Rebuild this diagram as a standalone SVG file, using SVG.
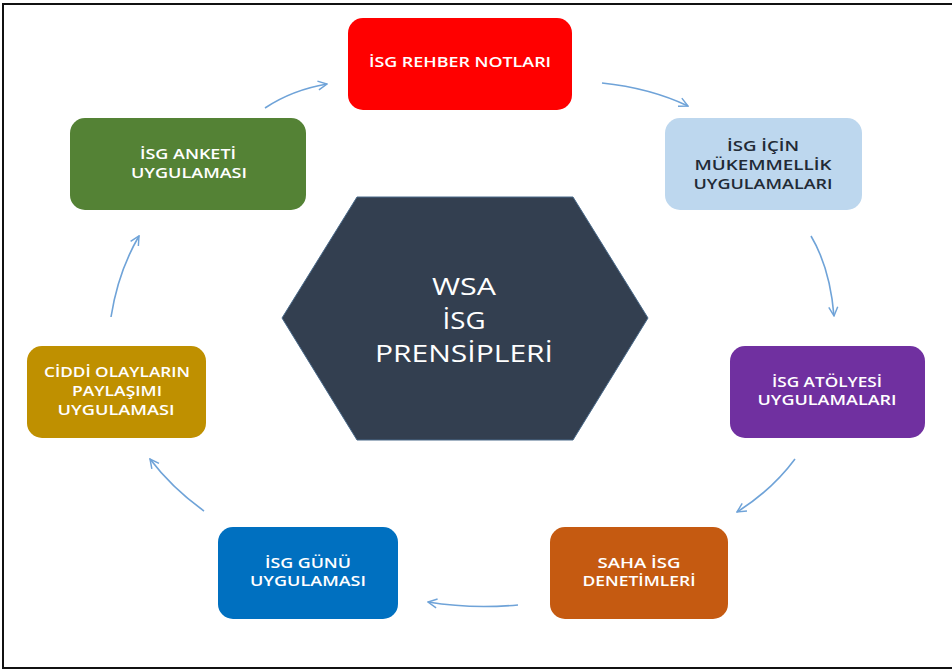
<svg xmlns="http://www.w3.org/2000/svg" width="952" height="670" viewBox="0 0 952 670">
<defs>
<style>
.box text{font-family:"Open Sans","Liberation Sans",sans-serif;font-size:14.5px;font-weight:600;text-anchor:middle;fill:#ffffff}
.dark text{fill:#222a35}
.conn path{fill:none;stroke:#6fa3d8;stroke-width:1.6;marker-end:url(#ah)}
.hub text{font-family:"Open Sans","Liberation Sans",sans-serif;font-size:23px;text-anchor:middle;fill:#ffffff}
</style>
<marker id="ah" viewBox="0 0 10 10" refX="9" refY="5" markerWidth="7" markerHeight="7" orient="auto" markerUnits="strokeWidth">
<path d="M1,1 L9,5 L1,9" fill="none" stroke="#6fa3d8" stroke-width="1.3"/>
</marker>
</defs>
<rect x="0" y="0" width="952" height="670" fill="#ffffff"/>
<path d="M3,669 L3,4 L952,4 M3,668 L952,668" fill="none" stroke="#111" stroke-width="2"/>

<g id="hub" class="hub">
<polygon points="282,318 357,197 573,197 648,318 573,440 357,440" fill="#333f50" stroke="#4a6a8a" stroke-width="1"/>
<text x="464" y="295" textLength="64" lengthAdjust="spacingAndGlyphs">WSA</text>
<text x="464" y="329" textLength="43" lengthAdjust="spacingAndGlyphs">İSG</text>
<text x="464" y="362" textLength="178" lengthAdjust="spacingAndGlyphs">PRENSİPLERİ</text>
</g>

<g id="n1" class="box">
<rect x="348" y="18" width="224" height="92" rx="15" fill="#ff0000"/>
<text x="460" y="67" textLength="182" lengthAdjust="spacingAndGlyphs">İSG REHBER NOTLARI</text>
</g>
<g id="n2" class="box dark">
<rect x="665" y="118" width="197" height="92" rx="15" fill="#bdd7ee"/>
<text x="763" y="151" textLength="72" lengthAdjust="spacingAndGlyphs">İSG İÇİN</text>
<text x="763" y="170" textLength="137" lengthAdjust="spacingAndGlyphs">MÜKEMMELLİK</text>
<text x="763" y="189" textLength="139" lengthAdjust="spacingAndGlyphs">UYGULAMALARI</text>
</g>
<g id="n3" class="box">
<rect x="730" y="346" width="195" height="92" rx="15" fill="#7030a0"/>
<text x="827" y="387" textLength="110" lengthAdjust="spacingAndGlyphs">İSG ATÖLYESİ</text>
<text x="827" y="405" textLength="139" lengthAdjust="spacingAndGlyphs">UYGULAMALARI</text>
</g>
<g id="n4" class="box">
<rect x="550" y="527" width="178" height="92" rx="15" fill="#c55a11"/>
<text x="639" y="568" textLength="83" lengthAdjust="spacingAndGlyphs">SAHA İSG</text>
<text x="639" y="586" textLength="113" lengthAdjust="spacingAndGlyphs">DENETİMLERİ</text>
</g>
<g id="n5" class="box">
<rect x="218" y="527" width="180" height="92" rx="15" fill="#0070c0"/>
<text x="308" y="568" textLength="86" lengthAdjust="spacingAndGlyphs">İSG GÜNÜ</text>
<text x="308" y="586" textLength="116" lengthAdjust="spacingAndGlyphs">UYGULAMASI</text>
</g>
<g id="n6" class="box">
<rect x="27" y="346" width="179" height="92" rx="15" fill="#bf9000"/>
<text x="117" y="377" textLength="146" lengthAdjust="spacingAndGlyphs">CİDDİ OLAYLARIN</text>
<text x="117" y="396" textLength="90" lengthAdjust="spacingAndGlyphs">PAYLAŞIMI</text>
<text x="116" y="415" textLength="117" lengthAdjust="spacingAndGlyphs">UYGULAMASI</text>
</g>
<g id="n7" class="box">
<rect x="70" y="118" width="236" height="92" rx="15" fill="#548235"/>
<text x="188" y="159" textLength="96" lengthAdjust="spacingAndGlyphs">İSG ANKETİ</text>
<text x="189" y="178" textLength="116" lengthAdjust="spacingAndGlyphs">UYGULAMASI</text>
</g>

<g id="connectors" class="conn">
<path d="M265,108 Q292,90 327,84"/>
<path d="M602,83 Q650,88 688,106"/>
<path d="M811,236 Q830,268 834,316"/>
<path d="M795,459 Q772,490 737,512"/>
<path d="M518,605 Q470,609 428,602"/>
<path d="M204,511 Q172,488 150,459"/>
<path d="M111,317 Q118,272 139,236"/>
</g>
</svg>
